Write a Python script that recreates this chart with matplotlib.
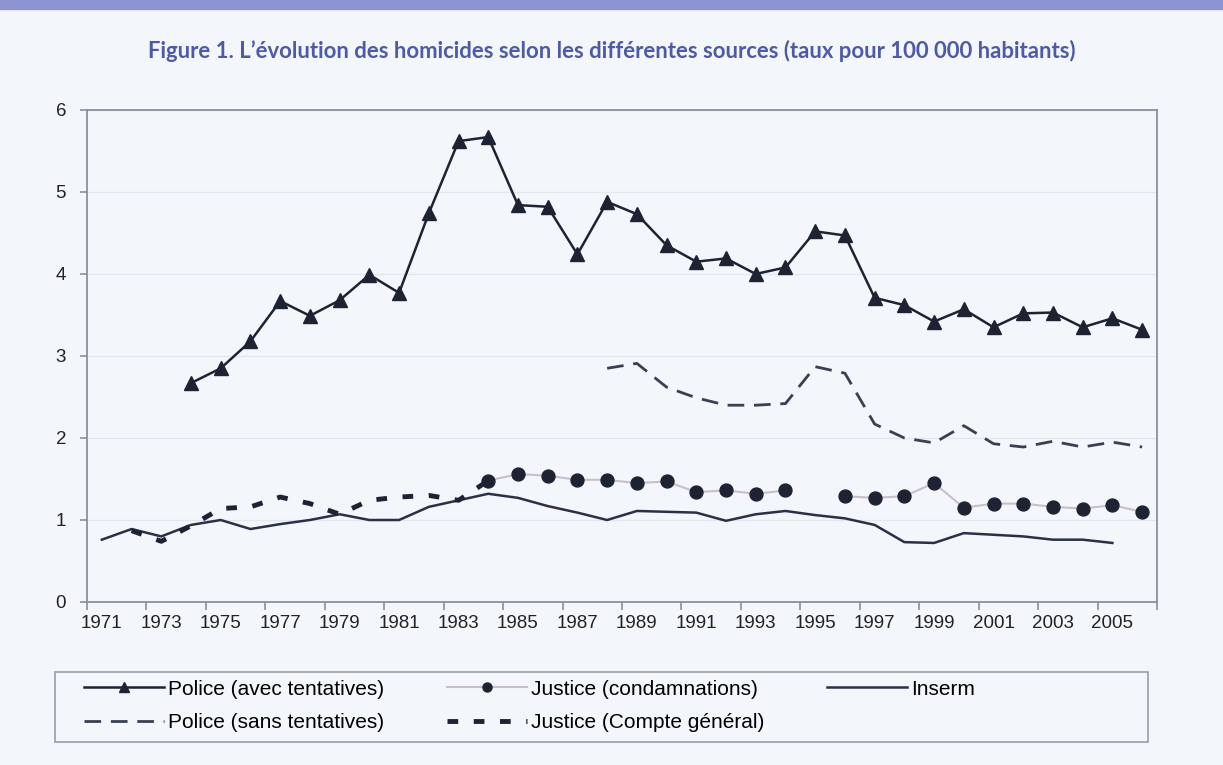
import numpy as np
import matplotlib
matplotlib.use("Agg")
from matplotlib import pyplot as plt
from matplotlib.patches import Rectangle

# données (taux pour 100 000 habitants)
annees_police_avec = np.arange(1974, 2007)
police_avec = [2.67, 2.85, 3.18, 3.67, 3.49, 3.68, 3.99, 3.77, 4.74, 5.62, 5.67,
               4.84, 4.82, 4.24, 4.88, 4.73, 4.35, 4.15, 4.19, 4.00, 4.08, 4.52,
               4.47, 3.71, 3.62, 3.42, 3.57, 3.35, 3.52, 3.53, 3.35, 3.46, 3.32]

annees_police_sans = np.arange(1988, 2007)
police_sans = [2.85, 2.91, 2.62, 2.49, 2.40, 2.40, 2.42, 2.87, 2.79, 2.17,
               2.00, 1.94, 2.15, 1.93, 1.89, 1.96, 1.89, 1.95, 1.89]

annees_justice_cond = np.arange(1984, 2007)
justice_cond = [1.48, 1.56, 1.54, 1.49, 1.49, 1.45, 1.47, 1.34, 1.36, 1.32, 1.36,
                np.nan, 1.29, 1.27, 1.29, 1.45, 1.15, 1.20, 1.20, 1.16, 1.14, 1.18, 1.10]

annees_inserm = np.arange(1971, 2006)
inserm = [0.76, 0.89, 0.80, 0.94, 1.00, 0.89, 0.95, 1.00, 1.07, 1.00, 1.00, 1.16,
          1.24, 1.32, 1.27, 1.17, 1.09, 1.00, 1.11, 1.10, 1.09, 0.99, 1.07, 1.11,
          1.06, 1.02, 0.94, 0.73, 0.72, 0.84, 0.82, 0.80, 0.76, 0.76, 0.72]

annees_justice_cg = np.arange(1972, 1985)
justice_cg = [0.87, 0.74, 0.93, 1.14, 1.16, 1.28, 1.20, 1.07, 1.24, 1.28, 1.30, 1.24, 1.48]

fond = '#f3f6fb'
encre = '#1d2333'
gris = '#8a8f9c'

plt.rcParams['font.family'] = ['Liberation Sans', 'DejaVu Sans']

fig = plt.figure(figsize=(12.23, 7.65), dpi=100, facecolor=fond)

# bandeau en haut de page
fig.patches.append(Rectangle((0, 1 - 9 / 765), 1, 9 / 765, transform=fig.transFigure,
                             color='#8d94d2', zorder=0))

fig.text(0.5, 1 - 51 / 765,
         "Figure 1. L\u2019évolution des homicides selon les différentes sources (taux pour 100 000 habitants)",
         ha='center', va='center', fontsize=15.9, fontweight='bold', color='#4d5aa8',
         family=['Lato', 'DejaVu Sans'])

ax = fig.add_axes([87 / 1223, 1 - 602 / 765, (1157 - 87) / 1223, (602 - 110) / 765])
ax.set_facecolor(fond)

ax.plot(annees_police_avec, police_avec, color=encre, lw=1.8, marker='^',
        markersize=10, markerfacecolor=encre, markeredgecolor=encre,
        label='Police (avec tentatives)', zorder=5)
ax.plot(annees_police_sans, police_sans, color='#3a4052', lw=2.0, dashes=(6, 3.5),
        label='Police (sans tentatives)', zorder=4)
ax.plot(annees_justice_cond, justice_cond, color='#c9bfca', lw=1.5, marker='o',
        markersize=9.3, markerfacecolor=encre, markeredgecolor=encre,
        label='Justice (condamnations)', zorder=5)
ax.plot(annees_justice_cg, justice_cg, color=encre, lw=3.5, dashes=(2.2, 3.2),
        label='Justice (Compte général)', zorder=4)
ax.plot(annees_inserm, inserm, color='#2a3146', lw=1.8, label='Inserm', zorder=3)

ax.set_xlim(1970.5, 2006.5)
ax.set_ylim(0, 6)
ax.set_yticks(range(0, 7))
ax.yaxis.grid(True, color='#e3e7ee', lw=0.9)
ax.set_axisbelow(True)

# graduations entre les catégories, étiquettes une année sur deux
ax.set_xticks(np.arange(1970.5, 2007, 2))
ax.set_xticklabels([])
ax.set_xticks(np.arange(1971, 2006, 2), minor=True)
ax.set_xticklabels([str(a) for a in range(1971, 2006, 2)], minor=True)
ax.tick_params(axis='x', which='major', length=6, color=gris, width=1.2, direction='out')
ax.tick_params(axis='x', which='minor', length=0, pad=9, labelsize=13.5, labelcolor='#222222')
ax.tick_params(axis='y', length=5, color=gris, width=1.2, pad=10, labelsize=13.5,
               labelcolor='#222222')

for s in ax.spines.values():
    s.set_color(gris)
    s.set_linewidth(1.3)

# cadre de la légende
fig.patches.append(Rectangle((55 / 1223, 1 - 742 / 765), (1148 - 55) / 1223, 70 / 765,
                             transform=fig.transFigure, fill=False, ec='#9a9ea8', lw=1.2))

handles, labels = ax.get_legend_handles_labels()
fig.legend(handles, labels,
           loc='upper left', bbox_to_anchor=(65 / 1223, 1 - 661 / 765), ncol=3,
           frameon=False, fontsize=15, handlelength=3.85, handletextpad=0.2,
           columnspacing=3.0, labelspacing=0.7, markerscale=0.7)

fig.savefig('out.png', dpi=100, facecolor=fond)
